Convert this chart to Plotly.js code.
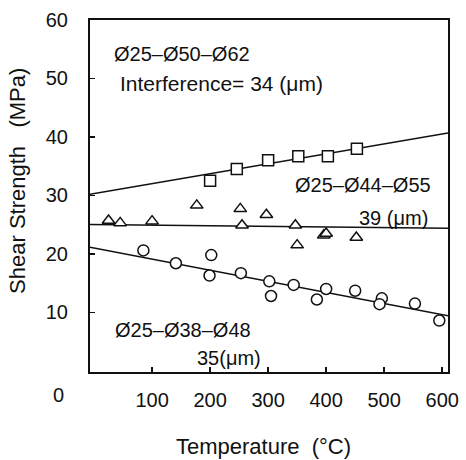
<!DOCTYPE html>
<html>
<head>
<meta charset="utf-8">
<script src="https://cdn.plot.ly/plotly-3.0.1.min.js"></script>
<style>html,body{margin:0;padding:0;background:#fff;}#chart{width:466px;height:460px;}</style>
</head>
<body>
<div id="chart"></div>
<script>
// Data
const sqT = [200, 246, 300, 352, 403, 453];
const sqS = [32.5, 34.5, 36.0, 36.7, 36.7, 38.0];

const triT = [25, 45, 100, 177, 252, 255, 297, 347, 350, 396, 400, 452];
const triS = [25.7, 25.3, 25.6, 28.3, 27.7, 24.9, 26.7, 24.9, 21.5, 23.2, 23.5, 22.8];

const cirT = [85, 141, 202, 199, 253, 302, 305, 344, 384, 400, 450, 496, 492, 553, 595];
const cirS = [20.6, 18.4, 19.8, 16.3, 16.7, 15.3, 12.8, 14.7, 12.2, 14.0, 13.7, 12.4, 11.4, 11.5, 8.6];

// fitted lines (intercept, slope)
const fitSq = [30.3, 0.017];
const fitTri = [25.0, -0.001];
const fitCir = [21.0, -0.019];

const xTicks = [100, 200, 300, 400, 500, 600];
const yTicks = [10, 20, 30, 40, 50, 60];

const xRange = [-7, 610];
const yRange = [-0.2, 60];

const FONT = 'Liberation Sans, Arial, sans-serif';
const black = '#111';

function fitLine(f) {
  return {
    x: [xRange[0], xRange[1]],
    y: [f[0] + f[1] * xRange[0], f[0] + f[1] * xRange[1]],
    mode: 'lines', type: 'scatter', line: {color: black, width: 1.5},
    hoverinfo: 'skip', showlegend: false
  };
}
function markers(x, y, sym) {
  return {
    x: x, y: y, mode: 'markers', type: 'scatter', showlegend: false,
    marker: {symbol: sym, size: 11, color: '#fff', line: {color: black, width: 1.5}}
  };
}

const traces = [
  fitLine(fitSq), fitLine(fitTri), fitLine(fitCir),
  markers(sqT, sqS, 'square'),
  markers(triT, triS, 'triangle-up'),
  markers(cirT, cirS, 'circle')
];

const txt = (text, x, y, extra) => Object.assign({
  text: text, x: x, y: y, xref: 'x', yref: 'y', showarrow: false,
  xanchor: 'left', yanchor: 'middle', font: {family: FONT, size: 20, color: black}
}, extra || {});

const layout = {
  width: 466, height: 460,
  margin: {l: 90, r: 18, t: 20, b: 88},
  paper_bgcolor: '#fff', plot_bgcolor: '#fff',
  font: {family: FONT, size: 20, color: black},
  xaxis: {
    range: xRange, tickvals: xTicks, ticktext: xTicks.map(String),
    ticks: 'inside', ticklen: 5, tickwidth: 1.5, tickcolor: black,
    showline: true, linecolor: black, linewidth: 2, mirror: true,
    showgrid: false, zeroline: false, ticklabelstandoff: 9,
    tickfont: {family: FONT, size: 20, color: black}
  },
  yaxis: {
    range: yRange, tickvals: yTicks, ticktext: yTicks.map(String),
    ticks: 'inside', ticklen: 5, tickwidth: 1.5, tickcolor: black,
    showline: true, linecolor: black, linewidth: 2, mirror: true,
    showgrid: false, zeroline: false, ticklabelstandoff: 16,
    tickfont: {family: FONT, size: 20, color: black}
  },
  annotations: [
    txt('Ø25–Ø50–Ø62', 31, 54.2),
    txt('Interference= 34 (μm)', 41, 49.1, {font: {family: FONT, size: 21, color: black}}),
    txt('Ø25–Ø44–Ø55', 343, 31.7),
    txt('39 (μm)', 579, 26.1, {xanchor: 'right'}),
    txt('Ø25–Ø38–Ø48', 33, 7.0),
    txt('35(μm)', 174, 2.2),
    {text: '0', xref: 'paper', yref: 'paper', x: -0.089, y: -0.065, showarrow: false,
     xanchor: 'center', yanchor: 'middle', font: {family: FONT, size: 20, color: black}},
    {text: 'Temperature  (°C)', xref: 'paper', yref: 'paper', x: 0.486, y: -0.213, showarrow: false,
     xanchor: 'center', yanchor: 'middle', font: {family: FONT, size: 22, color: black}},
    {text: 'Shear Strength   (MPa)', xref: 'paper', yref: 'paper', x: -0.201, y: 0.543, showarrow: false,
     textangle: -90, xanchor: 'center', yanchor: 'middle', font: {family: FONT, size: 22, color: black}}
  ]
};

Plotly.newPlot('chart', traces, layout, {displayModeBar: false, staticPlot: true});
</script>
</body>
</html>
